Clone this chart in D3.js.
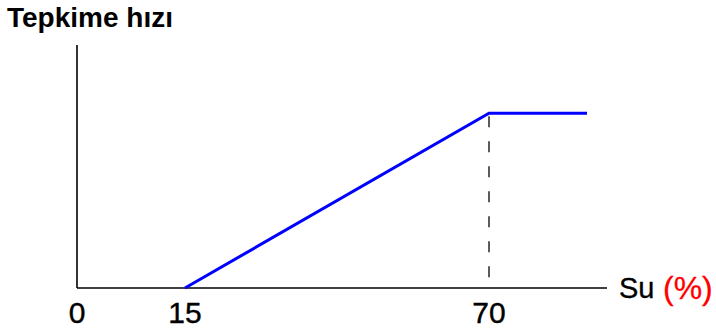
<!DOCTYPE html>
<html><head><meta charset="utf-8">
<script src="https://cdn.jsdelivr.net/npm/d3@7"></script>
<style>
html,body{margin:0;padding:0;background:#fff;}
svg{display:block;}
text{font-family:"Liberation Sans",Arial,sans-serif;}
</style></head>
<body>
<script>
// Data
const waterPct = [15, 70, 88];      // Su (%)
const reactionRate = [0, 100, 100]; // Tepkime hızı (relative)
const tickValues = [0, 15, 70];
const tickLabels = ["0", "15", "70"];
const yTitle = "Tepkime hızı";
const xTitle = "Su";
const xUnit = "(%)";

const W = 716, H = 331;
const svg = d3.select("body").append("svg").attr("width", W).attr("height", H);

const x0 = 77, x1 = 607, yBase = 288, yTop = 45;
// schematic (not-to-scale) axis: piecewise linear scale
const x = d3.scaleLinear().domain([0, 15, 70, 88]).range([x0, 185, 489, 587]);
const y = d3.scaleLinear().domain([0, 139]).range([yBase, yTop]);

// axes
svg.append("line").attr("x1", x0).attr("x2", x0).attr("y1", yTop).attr("y2", yBase)
  .attr("stroke", "#000").attr("stroke-width", 1.6);
svg.append("line").attr("x1", x0).attr("x2", x1).attr("y1", yBase).attr("y2", yBase)
  .attr("stroke", "#000").attr("stroke-width", 1.6);

// dashed guide at plateau start
svg.append("line")
  .attr("x1", x(waterPct[1])).attr("x2", x(waterPct[1]))
  .attr("y1", y(reactionRate[1])).attr("y2", yBase)
  .attr("stroke", "#333").attr("stroke-width", 1.6)
  .attr("stroke-dasharray", "11,14").attr("stroke-dashoffset", -3);

// line
const pts = waterPct.map((v, i) => [v, reactionRate[i]]);
svg.append("path").datum(pts)
  .attr("d", d3.line().x(d => x(d[0])).y(d => y(d[1])))
  .attr("fill", "none").attr("stroke", "#0000ff").attr("stroke-width", 3);

// tick labels
svg.selectAll("text.tick").data(tickValues).enter().append("text")
  .attr("class", "tick")
  .attr("x", d => x(d)).attr("y", 323)
  .attr("text-anchor", "middle").attr("font-size", 30).attr("fill", "#000")
  .attr("stroke", "#000").attr("stroke-width", 0.4)
  .text((d, i) => tickLabels[i]);

// titles
svg.append("text").attr("x", 7).attr("y", 27)
  .attr("font-size", 28).attr("font-weight", "bold").attr("fill", "#000")
  .text(yTitle);

svg.append("text").attr("x", 619).attr("y", 298).attr("font-size", 29)
  .attr("fill", "#000").attr("stroke", "#000").attr("stroke-width", 0.3).text(xTitle);
svg.append("text").attr("x", 663).attr("y", 299).attr("font-size", 32)
  .attr("fill", "#ff0000").attr("stroke", "#ff0000").attr("stroke-width", 0.3).text(xUnit);
</script>
</body></html>
